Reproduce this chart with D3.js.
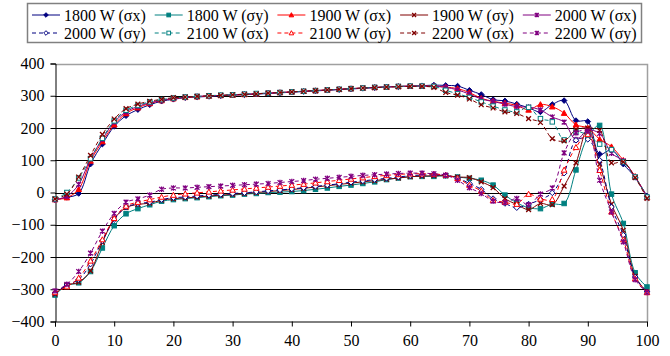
<!DOCTYPE html>
<html>
<head>
<meta charset="utf-8">
<script src="https://cdn.jsdelivr.net/npm/d3@7"></script>
<style>
  body { margin: 0; background: #fff; }
</style>
</head>
<body>
<div id="chart"></div>
<script>
/* Daten */
var xValues = [0,2,4,6,8,10,12,14,16,18,20,22,24,26,28,30,32,34,36,38,40,42,44,46,48,50,
  52,54,56,58,60,62,64,66,68,70,72,74,76,78,80,82,84,86,88,90,92,94,96,98,100];

var s1800x = [-22,-15,-3,88,150,205,238,257,272,283,289,
  294,296,298,300,302,303,305,307,309,311,313,315,317,319,321,323,325,327,328,330,331,
  333,332,330,317,304,288,284,274,263,250,273,285,223,220,119,132,88,47,-11];
var s1800y = [-318,-288,-280,-245,-172,-103,-66,-50,-38,-27,-22,
  -19,-16,-13,-10,-8,-5,-3,0,1,3,6,10,14,19,23,28,33,40,45,49,50,
  50,52,48,44,38,23,-8,-32,-47,-50,-36,-34,70,172,208,-5,-96,-249,-293];
var s1900x = [-22,-16,10,98,158,210,245,263,276,285,291,
  295,297,299,301,302,304,306,308,310,312,314,316,318,320,322,324,326,327,329,330,330,
  330,327,322,310,292,283,277,270,256,273,266,246,210,200,165,142,100,50,-15];
var s1900y = [-315,-287,-278,-243,-155,-82,-47,-37,-33,-24,-19,
  -17,-14,-11,-8,-6,-3,0,3,6,9,13,17,21,25,29,33,37,41,45,49,51,
  52,52,48,46,33,15,-19,-37,-53,-34,-38,20,92,198,88,-36,-117,-260,-308];
var s2000x = [-22,-12,25,105,165,218,250,267,278,286,292,
  296,298,300,301,303,305,306,308,310,312,314,316,318,320,322,324,326,328,329,330,330,
  329,326,318,305,290,282,274,266,265,256,234,218,164,193,183,122,98,48,-15];
var s2000y = [-312,-287,-270,-222,-150,-84,-46,-35,-30,-22,-16,
  -14,-11,-8,-6,-3,-1,2,5,8,11,15,19,23,27,32,36,40,44,48,52,54,
  55,53,45,28,10,-19,-34,-47,-36,-22,-1,60,162,165,100,-45,-132,-262,-308];
var s2100x = [-20,0,45,105,168,222,255,270,281,288,293,
  296,298,300,302,303,305,307,308,310,312,314,316,318,320,322,324,326,327,329,330,330,
  329,317,306,295,281,268,256,250,264,229,219,163,188,178,150,133,95,48,-14];
var s2100y = [-310,-292,-265,-212,-146,-80,-42,-30,-22,-14,-8,
  -4,-1,2,5,8,11,14,17,20,23,26,30,34,38,42,46,50,53,56,58,58,
  57,54,44,23,5,-24,-30,-36,-5,-20,-21,70,140,180,69,-60,-146,-267,-310];
var s2200x = [-20,-5,48,115,180,228,260,274,283,289,294,
  296,298,300,301,303,304,306,308,310,312,314,316,318,320,322,324,325,327,328,329,329,
  326,310,302,290,272,262,250,245,229,217,167,160,195,200,193,92,95,46,-18];
var s2200y = [-305,-285,-245,-188,-120,-65,-30,-20,-8,10,14,
  14,16,18,20,22,24,26,28,31,34,37,41,44,47,50,53,55,57,59,60,60,
  58,54,38,15,-3,-27,-31,-19,-38,-5,14,123,185,190,38,-60,-153,-270,-310];

var seriesNames = ["1800 W (\u03c3x)","1800 W (\u03c3y)","1900 W (\u03c3x)","1900 W (\u03c3y)","2000 W (\u03c3x)",
  "2000 W (\u03c3y)","2100 W (\u03c3x)","2100 W (\u03c3y)","2200 W (\u03c3x)","2200 W (\u03c3y)"];
var seriesValues = [s1800x,s1800y,s1900x,s1900y,s2000x,s2000y,s2100x,s2100y,s2200x,s2200y];
var xTicks = [0,10,20,30,40,50,60,70,80,90,100];
var yTicks = [-400,-300,-200,-100,0,100,200,300,400];

/* Stil je Reihe */
var colors = ["#000080","#008080","#ff0000","#800000","#800080"];
var markers = ["diamond","square","triangle","cross","star"];
var fontFamily = "Liberation Serif, Tinos, Times New Roman, DejaVu Serif, serif";

var width = 670, height = 356;
var plot = {left: 55, right: 647, top: 63.5, bottom: 321.5};

var svg = d3.select("#chart").append("svg").attr("width", width).attr("height", height)
  .attr("font-family", fontFamily);
svg.append("rect").attr("width", width).attr("height", height).attr("fill", "white");

var x = d3.scaleLinear().domain([0,100]).range([plot.left, plot.right]);
var y = d3.scaleLinear().domain([-400,400]).range([plot.bottom, plot.top]);

/* Gitter */
svg.append("g").selectAll("line").data(yTicks.filter(function(t){return t > -400 && t < 400;})).enter().append("line")
  .attr("x1", plot.left).attr("x2", plot.right)
  .attr("y1", function(d){return Math.round(y(d)) + 0.5;}).attr("y2", function(d){return Math.round(y(d)) + 0.5;})
  .attr("stroke", "#000").attr("stroke-width", 1);

/* Rahmen oben/rechts */
svg.append("path").attr("d", "M" + plot.left + "," + (Math.round(plot.top) + 0.5) + "H" + (plot.right + 0.5) + "V" + plot.bottom)
  .attr("fill", "none").attr("stroke", "#a0a0a0").attr("stroke-width", 1.5);

/* Achsen */
var xAxis = d3.axisBottom(x).tickValues(xTicks).tickSize(5).tickPadding(8).tickFormat(d3.format("d"));
var yAxis = d3.axisLeft(y).tickValues(yTicks).tickSize(5).tickPadding(6).tickFormat(d3.format("d"));
var gx = svg.append("g").attr("transform", "translate(0," + (Math.round(plot.bottom) - 0.5) + ")").call(xAxis);
var gy = svg.append("g").attr("transform", "translate(" + (plot.left + 0.5) + ",0)").call(yAxis);
[gx, gy].forEach(function(g) {
  g.attr("font-family", fontFamily).attr("font-size", 16);
  g.select(".domain").attr("stroke", "#000");
  g.selectAll(".tick line").attr("stroke", "#000");
  g.selectAll(".tick text").attr("fill", "#000");
});

/* Marker zeichnen */
function drawMarker(g, type, color, hollow, s) {
  var fill = hollow ? "white" : color;
  if (type == "diamond") {
    g.append("path").attr("d", "M0,-" + s + "L" + s + ",0L0," + s + "L-" + s + ",0Z").attr("fill", fill).attr("stroke", color).attr("stroke-width", 1);
  } else if (type == "square") {
    var h = s * 0.8;
    g.append("rect").attr("x", -h).attr("y", -h).attr("width", 2*h).attr("height", 2*h).attr("fill", fill).attr("stroke", color).attr("stroke-width", 1);
  } else if (type == "triangle") {
    g.append("path").attr("d", "M0,-" + s + "L" + s + "," + (s*0.8) + "L-" + s + "," + (s*0.8) + "Z").attr("fill", fill).attr("stroke", color).attr("stroke-width", 1);
  } else {
    var c = s * 0.85;
    var d = "M-" + c + ",-" + c + "L" + c + "," + c + "M-" + c + "," + c + "L" + c + ",-" + c;
    if (type == "star") d += "M0,-" + s + "V" + s;
    g.append("path").attr("d", d).attr("fill", "none").attr("stroke", color).attr("stroke-width", 1.3);
  }
}

/* Linien */
var line = d3.line().x(function(d, i){return x(xValues[i]);}).y(function(d){return y(d);}).curve(d3.curveCatmullRom.alpha(0.5));

seriesValues.forEach(function(vals, k) {
  var color = colors[k % 5], dashed = k >= 5, type = markers[k % 5];
  var g = svg.append("g");
  g.append("path").attr("d", line(vals)).attr("fill", "none").attr("stroke", color).attr("stroke-width", 1)
    .attr("stroke-dasharray", dashed ? "4,3" : null);
  vals.forEach(function(v, i) {
    var m = g.append("g").attr("transform", "translate(" + x(xValues[i]) + "," + y(v) + ")");
    drawMarker(m, type, color, dashed, 2.8);
  });
});

/* Legende */
var leg = svg.append("g");
leg.append("rect").attr("x", 27.5).attr("y", 3.5).attr("width", 614).attr("height", 39)
  .attr("fill", "white").attr("stroke", "#808080").attr("stroke-width", 1.5);
seriesNames.forEach(function(name, k) {
  var col = k % 5, row = Math.floor(k / 5);
  var lx = 32 + col * 122.7, ly = 15 + row * 18;
  var color = colors[k % 5], dashed = k >= 5;
  leg.append("line").attr("x1", lx).attr("x2", lx + 28).attr("y1", ly).attr("y2", ly)
    .attr("stroke", color).attr("stroke-width", 1).attr("stroke-dasharray", dashed ? "4,3" : null);
  var m = leg.append("g").attr("transform", "translate(" + (lx + 14) + "," + ly + ")");
  drawMarker(m, markers[k % 5], color, dashed, 2.3);
  leg.append("text").attr("x", lx + 32).attr("y", ly).attr("dy", "0.35em")
    .attr("font-family", fontFamily).attr("font-size", 16).attr("fill", "#000").text(name);
});
</script>
</body>
</html>
